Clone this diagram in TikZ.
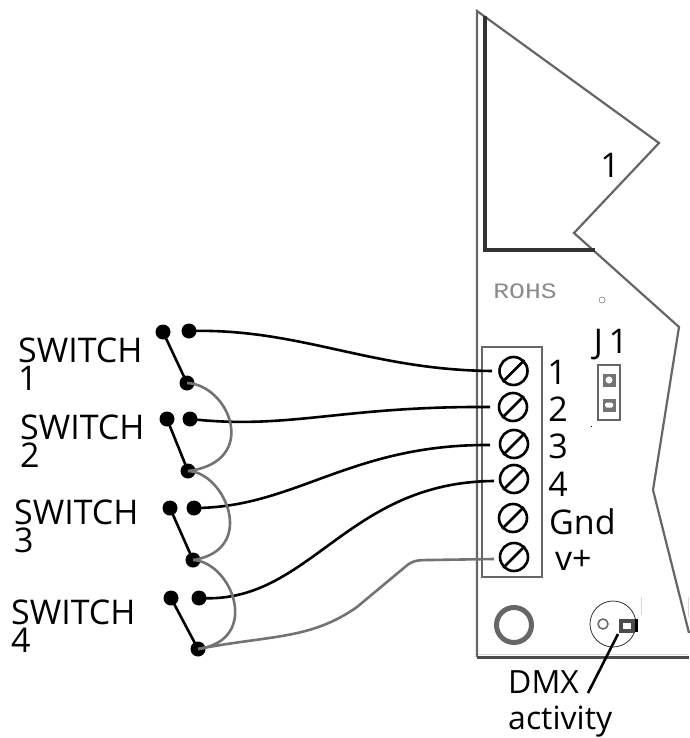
\documentclass[tikz,border=0pt]{standalone}
\usepackage{fontspec}
\setmainfont{Open Sans}
\setmonofont{Liberation Mono}
\definecolor{boardgray}{gray}{0.4}
\definecolor{wiregray}{gray}{0.45}
\tikzset{
  outline/.style={draw=boardgray,line width=2.2pt},
  wire/.style={draw=black,line width=2.6pt},
  jumper/.style={draw=wiregray,line width=2.6pt},
  contact/.style={circle,fill=black,inner sep=0pt,minimum size=15pt},
  screw/.style={circle,draw=black,line width=2.6pt,inner sep=0pt,minimum size=28pt},
  slot/.style={draw=black,line width=2.6pt},
  label/.style={inner sep=0pt,font=\fontsize{34}{28}\selectfont},
  smalllabel/.style={inner sep=0pt,anchor=west,font=\fontsize{32}{28}\selectfont},
  swlabel/.style={label,align=left,anchor=west},
  pad/.style={rectangle,fill=black!55,inner sep=0pt,minimum size=13pt},
}
\begin{document}
\begin{tikzpicture}[x=1pt,y=-1pt]
        \useasboundingbox (0,0) rectangle (689,738);
        \coordinate (p1) at (477,11);
        \coordinate (p2) at (659,143);
        \coordinate (p3) at (574,233);
        \coordinate (p4) at (679,327);
        \coordinate (p5) at (653,490);
        \coordinate (p6) at (689,633);
        \coordinate (p7) at (689,657);
        \coordinate (p8) at (477,657);
        \coordinate (e1) at (485,16);
        \coordinate (e2) at (485,250);
        \coordinate (e3) at (595,250);
        % board edge
        \draw[outline] (p6) -- (p5) -- (p4) -- (p3) -- (p2) -- (p1) -- (p8);
        \draw[draw=black!80,line width=4.5pt] (e1) -- (e2) -- (e3);
        \draw[draw=black!70,line width=3pt] (p8) -- (p7);
        \draw[draw=black!15,line width=1.5pt] (478,654.5) -- (689,654.5);
        \draw[draw=black!15,line width=1pt] (641,597) -- (641,615);
        \draw[draw=black!15,line width=1pt] (688,597) -- (688,617);
        \node[label] (one) at (610,165) {1};
        \node[inner sep=0pt,text=black!45,xscale=1.2,font=\ttfamily\fontsize{22}{22}\selectfont] (rohs) at (525,291) {ROHS};
        \node[circle,draw=black!50,line width=0.6pt,inner sep=0pt,minimum size=6pt] (mark) at (602,300) {};
        % terminal block
        \node[draw=boardgray,line width=2pt,minimum width=60pt,minimum height=230pt,inner sep=0pt] (block) at (512,462) {};
        \node[screw] (scr1) at (513.5,371) {};
        \node[screw] (scr2) at (513,407) {};
        \node[screw] (scr3) at (514,444) {};
        \node[screw] (scr4) at (514,479) {};
        \node[screw] (scr5) at (513,518) {};
        \node[screw] (scr6) at (514,557) {};
        \draw[slot] (scr1.225) -- (scr1.45);
        \draw[slot] (scr2.225) -- (scr2.45);
        \draw[slot] (scr3.225) -- (scr3.45);
        \draw[slot] (scr4.225) -- (scr4.45);
        \draw[slot] (scr5.225) -- (scr5.45);
        \draw[slot] (scr6.225) -- (scr6.45);
        \node[label] (t1) at (557,372) {1};
        \node[label] (t2) at (558,409) {2};
        \node[label] (t3) at (558,446) {3};
        \node[label] (t4) at (558,484) {4};
        \node[label,anchor=west] (t5) at (549,522) {Gnd};
        \node[label,anchor=west] (t6) at (555,560) {v+};
        % jumper J1
        \node[label] (jone) at (611,345) {J\,1};
        \node[draw=boardgray,line width=1.5pt,minimum width=22pt,minimum height=55pt,inner sep=0pt] (header) at (609,392.5) {};
        \node[pad] (pad1) at (609,380) {};
        \node[pad] (pad2) at (609,405) {};
        \fill[white] (pad1) circle (3.5pt);
        \fill[white,rounded corners=1.5pt] (605,402.5) rectangle (613,407.5);
        \fill[black] (590.5,425.5) rectangle (591.5,427);
        % mounting hole and LED
        \node[circle,draw=boardgray,line width=5pt,inner sep=0pt,minimum size=35pt] (hole) at (514,625) {};
        \node[circle,draw=black!80,line width=0.8pt,inner sep=0pt,minimum size=46pt] (led) at (613,624) {};
        \node[circle,draw=boardgray,line width=1.5pt,inner sep=0pt,minimum size=10pt] (ledpin) at (603,624) {};
        \node[draw=black!70,line width=4pt,inner sep=0pt,minimum width=12pt,minimum height=10pt] (ledpad) at (627,625.5) {};
        \draw[draw=black,line width=3pt] (636.5,619) -- (636.5,632);
        \coordinate (ledtip) at (618,634);
        \coordinate (dmxtip) at (588,693);
        \draw[wire] (ledtip) -- (dmxtip);
        \node[smalllabel] (dmx) at (508,682) {DMX};
        \node[smalllabel] (act) at (508,722) {activity};
        % switches
        \node[contact] (a1) at (163,332) {};
        \node[contact] (b1) at (189,331) {};
        \node[contact] (c1) at (187,383) {};
        \node[contact] (a2) at (167,419) {};
        \node[contact] (b2) at (190,419) {};
        \node[contact] (c2) at (188,471) {};
        \node[contact] (a3) at (170,508) {};
        \node[contact] (b3) at (194,508) {};
        \node[contact] (c3) at (193,560) {};
        \node[contact] (a4) at (171,598) {};
        \node[contact] (b4) at (199,598) {};
        \node[contact] (c4) at (198,649) {};
        \draw[wire] (a1.center) -- (c1.center);
        \draw[wire] (a2.center) -- (c2.center);
        \draw[wire] (a3.center) -- (c3.center);
        \draw[wire] (a4.center) -- (c4.center);
        \node[swlabel] (sw1) at (18,364) {SWITCH\\1};
        \node[swlabel] (sw2) at (20,441) {SWITCH\\2};
        \node[swlabel] (sw3) at (14,526) {SWITCH\\3};
        \node[swlabel] (sw4) at (11,626) {SWITCH\\4};
        % wires to the terminals
        \coordinate (w1) at (492,371);
        \coordinate (w2) at (490,407);
        \coordinate (w3) at (490,445);
        \coordinate (w4) at (494,481);
        \coordinate (w6) at (494,559);
        \draw[wire] (b1.center) .. controls (300,328) and (370,370) .. (w1);
        \draw[wire] (b2.center) .. controls (290,430) and (340,406) .. (w2);
        \draw[wire] (b3.center) .. controls (295,508) and (350,444) .. (w3);
        \draw[wire] (b4.center) .. controls (310,605) and (345,482) .. (w4);
        \draw[jumper] (c1.center) .. controls (230,385) and (260,462) .. (c2.center);
        \draw[jumper] (c2.center) .. controls (225,472) and (258,550) .. (c3.center);
        \draw[jumper] (c3.center) .. controls (232,562) and (262,640) .. (c4.center);
        \draw[jumper] (c4.center) .. controls (270,635) and (310,640) .. (357,607) -- (405,567) .. controls (412,561) and (415,560) .. (430,560) -- (w6);
\end{tikzpicture}
\end{document}
